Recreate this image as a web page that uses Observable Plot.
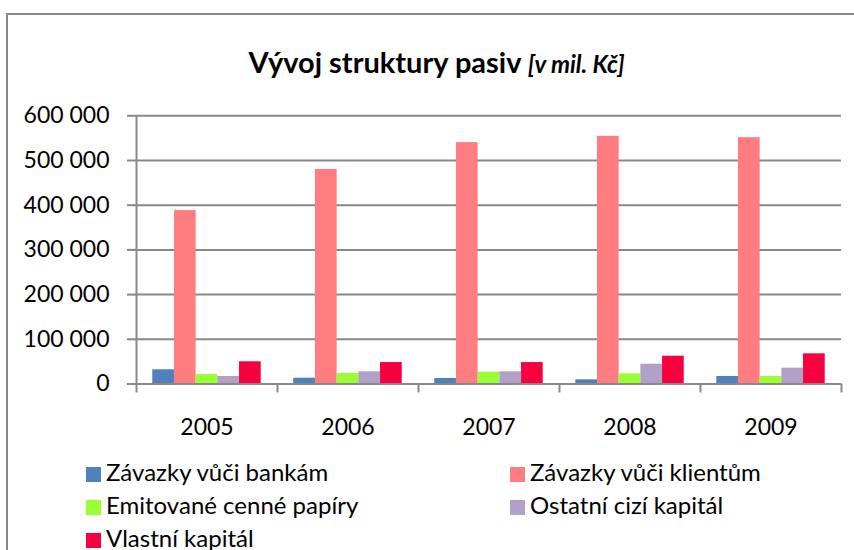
<!DOCTYPE html>
<html>
<head>
<meta charset="utf-8">
<script src="https://cdn.jsdelivr.net/npm/d3@7"></script>
<script src="https://cdn.jsdelivr.net/npm/@observablehq/plot@0.6"></script>
<style>
  html, body { margin: 0; padding: 0; background: #fff; }
  #wrap { position: relative; width: 854px; height: 550px; overflow: hidden; font-family: Lato, "Open Sans", sans-serif; color: #000; }
  #border { position: absolute; left: 6px; top: 13px; width: 900px; height: 600px; border: 2px solid #888; box-sizing: border-box; }
  #title { position: absolute; left: 0; width: 873px; top: 47px; text-align: center; line-height: 1; font-size: 29px; font-weight: bold; white-space: nowrap; }
  #title i { font-size: 24px; }
  #chart { position: absolute; left: 0; top: 0; }
  .leg { position: absolute; line-height: 1; font-size: 24px; white-space: nowrap; }
  .sw { position: absolute; width: 15px; height: 15px; }
</style>
</head>
<body>
<div id="wrap">
  <div id="border"></div>
  <div id="chart"></div>
  <div id="title">Vývoj struktury pasiv <i>[v mil. Kč]</i></div>
  <div id="legend"></div>
</div>
<script>
const years = ["2005", "2006", "2007", "2008", "2009"];
const seriesNames = [
  "Závazky vůči bankám",
  "Závazky vůči klientům",
  "Emitované cenné papíry",
  "Ostatní cizí kapitál",
  "Vlastní kapitál"
];
const colors = ["#4F81BD", "#FF7C80", "#99FF33", "#B2A1C7", "#F7003F"];
const zavazkyBanky   = [31800, 13000, 12300, 9300, 16800];
const zavazkyKlienti = [388000, 480000, 540000, 554000, 551000];
const emitovane      = [21200, 23500, 26400, 22800, 16800];
const ostatni        = [16800, 27300, 27300, 44300, 35400];
const vlastni        = [49700, 48000, 48000, 62200, 67500];
const yTicks = [0, 100000, 200000, 300000, 400000, 500000, 600000];

const seriesValues = [zavazkyBanky, zavazkyKlienti, emitovane, ostatni, vlastni];
const rows = years.flatMap((y, i) => seriesValues.map((vals, j) => ({
  year: y, i, j, series: seriesNames[j], value: vals[i]
})));

const OUTER = 0.75;                 // outer gap per side, in bar widths
const SLOTS = seriesNames.length + 2 * OUTER;
const fmt = d => d3.format(",")(d).replace(/,/g, " ");
const gridColor = "#888888";

const plot = Plot.plot({
  width: 854,
  height: 450,
  marginLeft: 136,
  marginRight: 13,
  marginTop: 115.3,
  marginBottom: 66.5,
  style: { fontFamily: "Lato, 'Open Sans', sans-serif", fontSize: "23px", color: "#000", background: "transparent", overflow: "visible" },
  x: { type: "linear", domain: [0, years.length] },
  y: { domain: [0, 600000] },
  color: { domain: seriesNames, range: colors },
  marks: [
    Plot.gridY({ ticks: yTicks, stroke: gridColor, strokeOpacity: 1, strokeWidth: 2 }),
    Plot.rectY(rows, {
      x1: d => d.i + (OUTER + d.j) / SLOTS,
      x2: d => d.i + (OUTER + d.j + 1) / SLOTS,
      y1: 0, y2: "value", fill: "series", insetLeft: 0, insetRight: 0
    }),
    Plot.ruleX([0], { y1: 0, y2: 600000, stroke: gridColor, strokeWidth: 2 }),
    Plot.ruleY([0], { stroke: gridColor, strokeWidth: 2 }),
    Plot.axisY({ ticks: yTicks, tickSize: 9, tickPadding: 18, tickFormat: fmt, label: null, stroke: gridColor, strokeWidth: 2, strokeOpacity: 1 }),
    Plot.axisX({ ticks: d3.range(years.length + 1), tickSize: 9, tickFormat: () => "", label: null, stroke: gridColor, strokeWidth: 2, strokeOpacity: 1 }),
    Plot.axisX({ ticks: years.map((_, i) => i + 0.5), tickSize: 0, tickPadding: 35, label: null, tickFormat: d => years[Math.floor(d)] })
  ]
});
document.getElementById("chart").appendChild(plot);

// legend
const legend = document.getElementById("legend");
const colX = [86, 510];
const rowBase = [481.7, 514.7, 547.7];
seriesNames.forEach((name, k) => {
  const c = k % 2, r = Math.floor(k / 2);
  const sw = document.createElement("div");
  sw.className = "sw";
  sw.style.left = colX[c] + "px";
  sw.style.top = (rowBase[r] - 15) + "px";
  sw.style.background = colors[k];
  legend.appendChild(sw);
  const t = document.createElement("div");
  t.className = "leg";
  t.style.left = (colX[c] + 20) + "px";
  t.style.top = (rowBase[r] - 0.887 * 24) + "px";
  t.textContent = name;
  legend.appendChild(t);
});
</script>
</body>
</html>
